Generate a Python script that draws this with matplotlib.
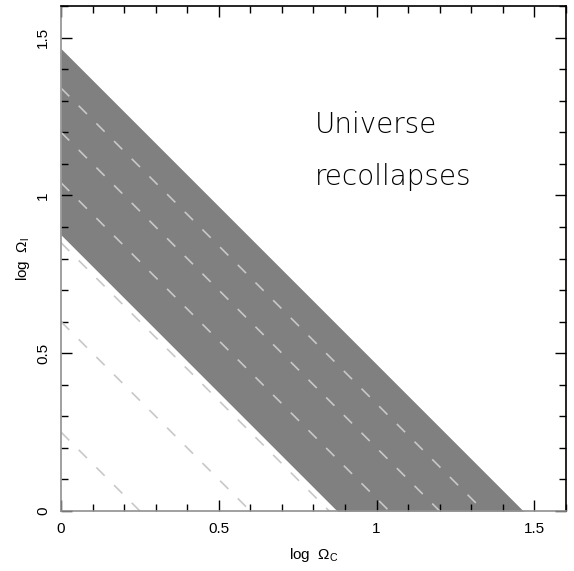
import matplotlib
matplotlib.use("Agg")
import matplotlib.pyplot as plt
import numpy as np
from matplotlib.ticker import MultipleLocator

plt.rcParams['font.family'] = ['Liberation Sans', 'DejaVu Sans']
plt.rcParams['mathtext.fontset'] = 'custom'
plt.rcParams['mathtext.rm'] = 'Liberation Sans'
plt.rcParams['mathtext.it'] = 'Liberation Sans'

# Data
band_lower = 0.875   # intercept of lower edge of shaded band (slope -1)
band_upper = 1.465   # intercept of upper edge of shaded band (slope -1)
dashed_intercepts = [0.25, 0.60, 0.85, 1.04, 1.20, 1.34]
xticks = [0, 0.5, 1, 1.5]
xtick_labels = ["0", "0.5", "1", "1.5"]
yticks = [0, 0.5, 1, 1.5]
ytick_labels = ["0", "0.5", "1", "1.5"]

fig = plt.figure(figsize=(5.74, 5.71), dpi=100)
ax = fig.add_axes([0.1063, 0.105, 0.8797, 0.8845])

x = np.linspace(0, 1.6, 200)
lo = np.clip(band_lower - x, 0, None)
hi = np.clip(band_upper - x, 0, None)
ax.fill_between(x, lo, hi, color="#808080", linewidth=0, zorder=1)

for c in dashed_intercepts:
    xx = np.array([0, c])
    ax.plot(xx, c - xx, color="#c8c8c8", linewidth=1.2, dashes=(7, 8), zorder=2)

ax.text(0.805, 1.198, "Universe", fontsize=20, color="black", family="DejaVu Sans",
        fontweight="light")
ax.text(0.805, 1.033, "recollapses", fontsize=20, color="black", family="DejaVu Sans",
        fontweight="light")

ax.set_xlim(0, 1.6)
ax.set_ylim(0, 1.6)
ax.set_xticks(xticks)
ax.set_xticklabels(xtick_labels, fontsize=11)
ax.set_yticks(yticks)
ax.set_yticklabels(ytick_labels, fontsize=11, rotation=90, va="center")
ax.xaxis.set_minor_locator(MultipleLocator(0.1))
ax.yaxis.set_minor_locator(MultipleLocator(0.1))
ax.tick_params(which="both", direction="in", top=True, right=True)
ax.tick_params(which="major", length=8, width=1)
ax.tick_params(which="minor", length=5, width=1)
ax.tick_params(axis="x", pad=8)
ax.tick_params(axis="y", pad=8)
ax.spines["left"].set_color("#909090")
ax.spines["bottom"].set_color("#909090")
for s in ax.spines.values():
    s.set_linewidth(1.2)
    s.set_zorder(5)

ax.set_xlabel(r"log  $\Omega_{\rm C}$", fontsize=11, labelpad=7)
ax.set_ylabel(r"log  $\Omega_{\rm l}$", fontsize=11, labelpad=3)

fig.savefig("out.png", dpi=100)
